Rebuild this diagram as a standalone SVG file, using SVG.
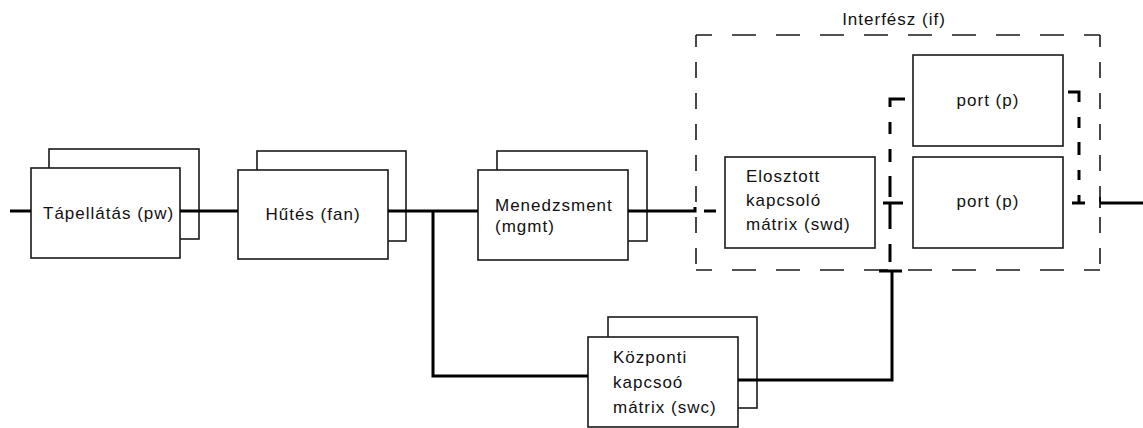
<svg xmlns="http://www.w3.org/2000/svg" width="1143" height="428" viewBox="0 0 1143 428">
<style>
.bx{fill:#fff;stroke:#1a1a1a;stroke-width:1.6}
.t{font-family:"Liberation Sans",Arial,sans-serif;font-size:17px;letter-spacing:1px;fill:#111}
.m{text-anchor:middle}
.c{fill:none;stroke:#000;stroke-width:3}
.dbox{fill:none;stroke:#1a1a1a;stroke-width:1.6}
</style>
<rect width="1143" height="428" fill="#fff"/>
<g id="if">
<path class="dbox" d="M696,35 H1100" stroke-dasharray="24 20" stroke-dashoffset="8"/>
<path class="dbox" d="M696,270 H1100" stroke-dasharray="24 20" stroke-dashoffset="8"/>
<path class="dbox" d="M696,35 V270" stroke-dasharray="16 15" stroke-dashoffset="4"/>
<path class="dbox" d="M1100,35 V270" stroke-dasharray="16 15" stroke-dashoffset="4"/>
<text class="t m" x="894" y="25">Interfész (if)</text>
</g>
<g id="pw">
<rect class="bx" x="49" y="149" width="150" height="90"/>
<rect class="bx" x="31" y="168" width="149" height="90"/>
<text class="t" x="43" y="219">Tápellátás (pw)</text>
</g>
<g id="fan">
<rect class="bx" x="257" y="151" width="149" height="90"/>
<rect class="bx" x="238" y="170" width="150" height="89"/>
<text class="t m" x="313" y="220">Hűtés (fan)</text>
</g>
<g id="mgmt">
<rect class="bx" x="497" y="151" width="150" height="90"/>
<rect class="bx" x="478" y="170" width="150" height="90"/>
<text class="t" x="495" y="210.5">Menedzsment</text>
<text class="t" x="495" y="232">(mgmt)</text>
</g>
<g id="swc">
<rect class="bx" x="608" y="317" width="149" height="91"/>
<rect class="bx" x="588" y="337" width="150" height="90"/>
<text class="t" x="613" y="363">Központi</text>
<text class="t" x="613" y="388">kapcsoó</text>
<text class="t" x="613" y="412.5">mátrix (swc)</text>
</g>
<g id="swd">
<rect class="bx" x="725" y="157" width="150" height="91"/>
<text class="t" x="746" y="182">Elosztott</text>
<text class="t" x="746" y="206">kapcsoló</text>
<text class="t" x="746" y="230">mátrix (swd)</text>
</g>
<g id="port1">
<rect class="bx" x="913" y="55" width="150" height="91"/>
<text class="t m" x="988" y="106">port (p)</text>
</g>
<g id="port2">
<rect class="bx" x="913" y="157" width="150" height="91"/>
<text class="t m" x="988" y="207">port (p)</text>
</g>
<g id="connectors">
<path class="c" d="M10,211 H31"/>
<path class="c" d="M180,211 H238"/>
<path class="c" d="M388,211 H478"/>
<path class="c" d="M433,211 V376 H588"/>
<path class="c" d="M628,211 H695 V207"/>
<path class="c" d="M704,211 H716"/>
<path class="c" d="M738,380 H892 V271"/>
<path class="c" d="M879,271 H902"/>
<path class="c" d="M905,99 H890 V107"/>
<path class="c" d="M890,122 V134 M890,149 V162 M890,176 V197 M890,244 V262"/>
<path class="c" d="M883,203 H903 M890,203 V229"/>
<path class="c" d="M1068,92 H1079 V102"/>
<path class="c" d="M1079,117 V128 M1079,142 V155 M1079,170 V180"/>
<path class="c" d="M1079,195 V203 M1072,203 H1085"/>
<path class="c" d="M1100,203 H1143"/>
<path d="M1100,197 V208" stroke="#000" stroke-width="1.6"/>
</g>
</svg>
